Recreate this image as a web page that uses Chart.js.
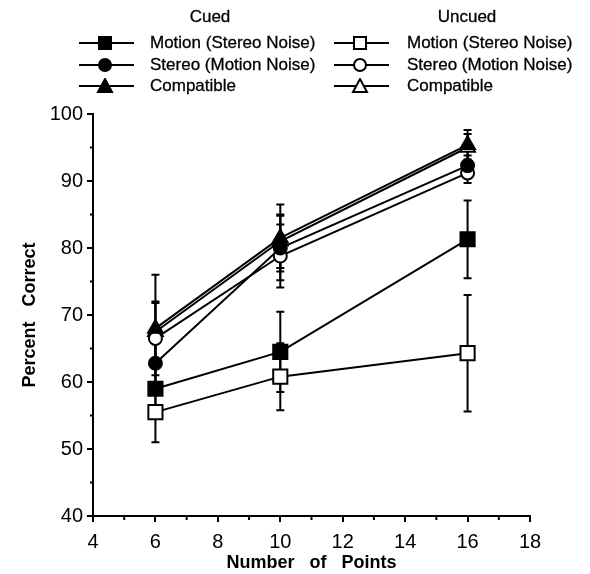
<!DOCTYPE html>
<html>
<head>
<meta charset="utf-8">
<script src="https://cdn.jsdelivr.net/npm/chart.js@4/dist/chart.umd.min.js"></script>
<style>
  body { margin: 0; background: #fff; }
  #wrap { position: relative; width: 590px; height: 574px; }
  #chart { position: absolute; left: 0; top: 0; }
  .lg { position: absolute; font: 17px "Liberation Sans", Arial, sans-serif; color: #000; line-height: 20px; white-space: nowrap; -webkit-text-stroke: 0.3px #000; }
  .sym { position: absolute; }
</style>
</head>
<body>
<div id="wrap">
  <canvas id="chart" width="590" height="574"></canvas>
  <div id="legend"></div>
</div>
<script>
// x positions (number of points)
const xValues = [6, 10, 16];

// percent correct
const cuedMotion   = [59.0, 64.5, 81.3];
const cuedStereo   = [62.8, 80.0, 92.3];
const cuedCompat   = [68.0, 81.5, 95.4];
const uncuedMotion = [55.5, 60.8, 64.3];
const uncuedStereo = [66.5, 78.8, 91.2];
const uncuedCompat = [67.5, 81.0, 95.0];

// half-length of the error bars
const cuedMotionErr   = [3.5, 6.0, 5.8];
const cuedStereoErr   = [4.5, 4.8, 1.5];
const cuedCompatErr   = [8.0, 5.0, 2.2];
const uncuedMotionErr = [4.5, 5.0, 8.7];
const uncuedStereoErr = [5.5, 4.7, 1.5];
const uncuedCompatErr = [4.3, 4.0, 2.0];

const seriesLabels = ['Motion (Stereo Noise)', 'Stereo (Motion Noise)', 'Compatible'];
const groupTitles = ['Cued', 'Uncued'];

const FONT = '"Liberation Sans", Arial, Helvetica, sans-serif';

// chart.js draws dataset 0 last, so cued (filled) ones end up on top
const series = [
  { group: 0, label: seriesLabels[2], values: cuedCompat, errors: cuedCompatErr, style: 'triangle', filled: true },
  { group: 0, label: seriesLabels[1], values: cuedStereo, errors: cuedStereoErr, style: 'circle', filled: true },
  { group: 0, label: seriesLabels[0], values: cuedMotion, errors: cuedMotionErr, style: 'rect', filled: true },
  { group: 1, label: seriesLabels[1], values: uncuedStereo, errors: uncuedStereoErr, style: 'circle', filled: false },
  { group: 1, label: seriesLabels[2], values: uncuedCompat, errors: uncuedCompatErr, style: 'triangle', filled: false },
  { group: 1, label: seriesLabels[0], values: uncuedMotion, errors: uncuedMotionErr, style: 'rect', filled: false },
];

const radii = { rect: 10, circle: 6.5, triangle: 8.5 };

// draw error bars underneath the markers
const errorBars = {
  id: 'errorBars',
  beforeDatasetsDraw(chart) {
    const ctx = chart.ctx;
    const xs = chart.scales.x, ys = chart.scales.y;
    ctx.save();
    ctx.strokeStyle = '#000';
    ctx.lineWidth = 2;
    chart.data.datasets.forEach(ds => {
      ds.data.forEach((pt, i) => {
        const e = ds.errors[i];
        const px = xs.getPixelForValue(pt.x);
        const top = ys.getPixelForValue(pt.y + e);
        const bot = ys.getPixelForValue(pt.y - e);
        ctx.beginPath();
        ctx.moveTo(px, top); ctx.lineTo(px, bot);
        ctx.moveTo(px - 4, top); ctx.lineTo(px + 4, top);
        ctx.moveTo(px - 4, bot); ctx.lineTo(px + 4, bot);
        ctx.stroke();
      });
    });
    ctx.restore();
  }
};

// short unlabelled ticks between the numbered ones
const minorTicks = {
  id: 'minorTicks',
  afterDraw(chart) {
    const { ctx, chartArea } = chart;
    const xs = chart.scales.x, ys = chart.scales.y;
    ctx.save();
    ctx.strokeStyle = '#000';
    ctx.lineWidth = 2;
    ctx.beginPath();
    for (let v = 5; v < 18; v += 2) {
      const px = xs.getPixelForValue(v);
      ctx.moveTo(px, chartArea.bottom);
      ctx.lineTo(px, chartArea.bottom + 4);
    }
    for (let v = 45; v < 100; v += 10) {
      const py = ys.getPixelForValue(v);
      ctx.moveTo(chartArea.left, py);
      ctx.lineTo(chartArea.left - 3, py);
    }
    ctx.stroke();
    ctx.restore();
  }
};

const datasets = series.map(s => ({
  label: s.label,
  data: xValues.map((x, i) => ({ x: x, y: s.values[i] })),
  errors: s.errors,
  borderColor: '#000',
  borderWidth: 2,
  pointStyle: s.style,
  pointRadius: radii[s.style],
  pointBorderWidth: 2,
  pointBorderColor: '#000',
  pointBackgroundColor: s.filled ? '#000' : '#fff',
  tension: 0,
  clip: false
}));

new Chart(document.getElementById('chart').getContext('2d'), {
  type: 'line',
  data: { datasets: datasets },
  options: {
    responsive: false,
    animation: false,
    events: [],
    layout: { padding: { top: 114, right: 60, left: 0, bottom: 0 } },
    plugins: {
      legend: { display: false },
      tooltip: { enabled: false }
    },
    scales: {
      x: {
        type: 'linear',
        min: 4,
        max: 18,
        ticks: { stepSize: 2, color: '#000', font: { size: 20, family: FONT }, padding: 8 },
        grid: { drawOnChartArea: false, color: '#000', lineWidth: 2, tickLength: 6 },
        border: { color: '#000', width: 2 },
        title: {
          display: true,
          text: 'Number   of   Points',
          color: '#000',
          font: { size: 18, weight: 'bold', family: FONT },
          padding: { top: 0, bottom: 0 }
        },
        afterFit(scale) { scale.height = 58; }
      },
      y: {
        type: 'linear',
        min: 40,
        max: 100,
        ticks: { stepSize: 10, color: '#000', font: { size: 20, family: FONT }, padding: 4 },
        grid: { drawOnChartArea: false, color: '#000', lineWidth: 2, tickLength: 6 },
        border: { color: '#000', width: 2 },
        title: {
          display: true,
          text: 'Percent   Correct',
          color: '#000',
          font: { size: 18, weight: 'bold', family: FONT },
          padding: { top: 19, bottom: 0 }
        },
        afterFit(scale) { scale.width = 93; }
      }
    }
  },
  plugins: [errorBars, minorTicks]
});

// legend, two columns with a heading each
function symbolSvg(style, filled) {
  const fill = filled ? '#000' : '#fff';
  let mark = '';
  if (style === 'rect') mark = `<rect x="20" y="2" width="12" height="12" fill="${fill}" stroke="#000" stroke-width="2"/>`;
  if (style === 'circle') mark = `<circle cx="26" cy="8" r="6" fill="${fill}" stroke="#000" stroke-width="2"/>`;
  if (style === 'triangle') mark = `<polygon points="26,1 33,14 19,14" fill="${fill}" stroke="#000" stroke-width="2"/>`;
  return `<svg width="55" height="16" viewBox="0 0 55 16"><line x1="0" y1="8" x2="55" y2="8" stroke="#000" stroke-width="2"/>${mark}</svg>`;
}

const legend = document.getElementById('legend');
const colX = [{ title: 210, sym: 79, text: 150 }, { title: 467, sym: 334, text: 407 }];
const rowY = [43, 65, 86];
groupTitles.forEach((t, g) => {
  const el = document.createElement('div');
  el.className = 'lg';
  el.textContent = t;
  el.style.top = (17 - 10) + 'px';
  el.style.left = colX[g].title + 'px';
  el.style.transform = 'translateX(-50%)';
  legend.appendChild(el);
});
series.forEach(s => {
  const row = seriesLabels.indexOf(s.label);
  const c = colX[s.group];
  const sym = document.createElement('div');
  sym.className = 'sym';
  sym.style.left = c.sym + 'px';
  sym.style.top = (rowY[row] - 8) + 'px';
  sym.innerHTML = symbolSvg(s.style, s.filled);
  legend.appendChild(sym);
  const txt = document.createElement('div');
  txt.className = 'lg';
  txt.textContent = s.label;
  txt.style.left = c.text + 'px';
  txt.style.top = (rowY[row] - 10) + 'px';
  legend.appendChild(txt);
});
</script>
</body>
</html>
